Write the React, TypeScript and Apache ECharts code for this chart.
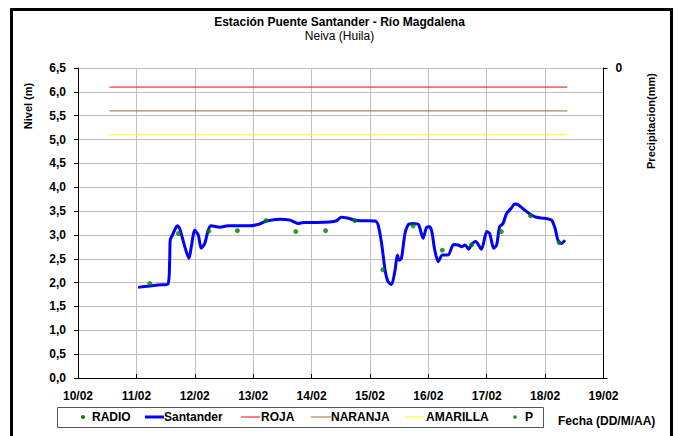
import React, { useEffect, useRef } from "react";
import * as echarts from "echarts";

// ---- data (day of February as decimal, value) ----
const xTickDays = [10, 11, 12, 13, 14, 15, 16, 17, 18, 19];
const santanderDays = [
  11.03, 11.23, 11.37, 11.54, 11.57, 11.58, 11.63, 11.7, 11.74, 11.83, 11.9, 11.94, 12.0, 12.06,
  12.11, 12.17, 12.23, 12.28, 12.43, 12.57, 12.71, 12.94, 13.11, 13.22, 13.46, 13.63, 13.77, 13.86,
  14.09, 14.31, 14.43, 14.51, 14.63, 14.77, 15.09, 15.14, 15.2, 15.26, 15.31, 15.37, 15.43, 15.47,
  15.5, 15.54, 15.6, 15.66, 15.74, 15.83, 15.91, 15.97, 16.02, 16.06, 16.11, 16.17, 16.24, 16.34,
  16.43, 16.51, 16.57, 16.63, 16.69, 16.74, 16.81, 16.91, 17.0, 17.05, 17.12, 17.17, 17.22, 17.28,
  17.34, 17.42, 17.48, 17.54, 17.65, 17.74, 17.85, 17.99, 18.11, 18.17, 18.22, 18.28, 18.34,
];
const santanderLevels = [
  1.9, 1.93, 1.95, 1.97, 2.47, 2.89, 3.03, 3.19, 3.14, 2.75, 2.51, 2.75, 3.1, 3.0,
  2.72, 2.82, 3.1, 3.19, 3.16, 3.19, 3.19, 3.19, 3.23, 3.29, 3.33, 3.31, 3.24, 3.26,
  3.26, 3.27, 3.3, 3.37, 3.35, 3.3, 3.29, 3.21, 2.82, 2.26, 2.02, 1.96, 2.26, 2.58,
  2.47, 2.51, 3.03, 3.22, 3.24, 3.22, 2.93, 3.16, 3.17, 3.07, 2.68, 2.44, 2.58, 2.58,
  2.8, 2.79, 2.75, 2.79, 2.7, 2.8, 2.86, 2.7, 3.07, 3.03, 2.72, 2.79, 3.17, 3.24,
  3.45, 3.56, 3.65, 3.63, 3.52, 3.44, 3.37, 3.35, 3.31, 3.14, 2.89, 2.82, 2.89,
];
const radioDays = [11.23, 11.72, 12.24, 12.73, 13.22, 13.73, 14.24, 14.74, 15.22, 15.74, 16.24, 16.74, 17.25, 17.75, 18.24];
const radioLevels = [1.98, 3.03, 3.08, 3.09, 3.3, 3.07, 3.09, 3.3, 2.27, 3.19, 2.68, 2.79, 3.07, 3.4, 2.84];
const thresholdStartDay = 10.54;
const thresholdEndDay = 18.38;
const rojaLevel = 6.1;
const naranjaLevel = 5.6;
const amarillaLevel = 5.1;
const seriesNames = ["RADIO", "Santander", "ROJA", "NARANJA", "AMARILLA", "P"];

const FONT = "'Liberation Sans', Arial, sans-serif";

export default function App() {
  const ref = useRef<HTMLDivElement>(null);
  useEffect(() => {
    if (!ref.current) return;
    const chart = echarts.init(ref.current, undefined, { renderer: "svg" });
    const pair = (xs: number[], ys: number[]) => xs.map((x, i) => [x, ys[i]]);
    const hline = (v: number) => [
      [thresholdStartDay, v],
      [thresholdEndDay, v],
    ];
    const legY = 417;
    const legText = (text: string, x: number) => ({
      type: "text",
      style: { text, x, y: legY, font: `bold 12px ${FONT}`, fill: "#000", verticalAlign: "middle" },
    });
    const legLine = (x1: number, x2: number, color: string, w: number) => ({
      type: "line",
      shape: { x1, y1: legY, x2, y2: legY },
      style: { stroke: color, lineWidth: w },
    });
    chart.setOption({
      animation: false,
      backgroundColor: "#fff",
      textStyle: { fontFamily: FONT },
      title: {
        text: "Estación Puente Santander - Río Magdalena",
        subtext: "Neiva (Huila)",
        left: "center",
        top: 11,
        itemGap: 2,
        textStyle: { fontSize: 12, fontWeight: "bold", color: "#000", fontFamily: FONT },
        subtextStyle: { fontSize: 12, color: "#000", fontFamily: FONT },
      },
      grid: { left: 78, right: 75.5, top: 68, bottom: 58 },
      xAxis: {
        type: "value",
        min: xTickDays[0],
        max: xTickDays[xTickDays.length - 1],
        interval: 1,
        axisLine: { lineStyle: { color: "#000", width: 1 } },
        axisTick: { inside: true, length: 4, lineStyle: { color: "#000" } },
        axisLabel: {
          margin: 12,
          color: "#000",
          fontWeight: "bold",
          fontSize: 12,
          fontFamily: FONT,
          formatter: (v: number) => `${v < 10 ? "0" : ""}${v}/02`,
        },
        splitLine: { show: true, lineStyle: { color: "#c0c0c0", width: 1 } },
      },
      yAxis: [
        {
          type: "value",
          min: 0,
          max: 6.5,
          interval: 0.5,
          axisLine: { show: true, lineStyle: { color: "#000", width: 1 } },
          axisTick: { show: true, length: 4, lineStyle: { color: "#000" } },
          axisLabel: {
            margin: 12,
            color: "#000",
            fontWeight: "bold",
            fontSize: 12,
            fontFamily: FONT,
            formatter: (v: number) => v.toFixed(1).replace(".", ","),
          },
          splitLine: { show: true, lineStyle: { color: "#c0c0c0", width: 1 } },
        },
        {
          type: "value",
          position: "right",
          inverse: true,
          min: 0,
          max: 1,
          interval: 1,
          axisLine: { show: true, lineStyle: { color: "#000", width: 1 } },
          axisTick: { show: true, length: 4, lineStyle: { color: "#000" } },
          axisLabel: {
            margin: 12,
            color: "#000",
            fontWeight: "bold",
            fontSize: 12,
            fontFamily: FONT,
            formatter: (v: number) => (v === 0 ? "0" : ""),
          },
          splitLine: { show: false },
        },
      ],
      series: [
        {
          name: seriesNames[2],
          type: "line",
          data: hline(rojaLevel),
          symbol: "none",
          lineStyle: { color: "#ff0000", width: 1 },
        },
        {
          name: seriesNames[3],
          type: "line",
          data: hline(naranjaLevel),
          symbol: "none",
          lineStyle: { color: "#996633", width: 1 },
        },
        {
          name: seriesNames[4],
          type: "line",
          data: hline(amarillaLevel),
          symbol: "none",
          lineStyle: { color: "#ffff00", width: 1 },
        },
        {
          name: seriesNames[1],
          type: "line",
          data: pair(santanderDays, santanderLevels),
          symbol: "none",
          smooth: 0.25,
          lineStyle: { color: "#0000ff", width: 3 },
          z: 3,
        },
        {
          name: seriesNames[0],
          type: "scatter",
          data: pair(radioDays, radioLevels),
          symbol: "circle",
          symbolSize: 5,
          itemStyle: { color: "#008000" },
          z: 4,
        },
        {
          name: seriesNames[5],
          type: "scatter",
          data: [],
          symbol: "rect",
          symbolSize: 4,
          itemStyle: { color: "#008000" },
        },
      ],
      graphic: [
        {
          type: "rect",
          shape: { x: 11.5, y: 9.5, width: 660, height: 460 },
          style: { fill: "none", stroke: "#000", lineWidth: 3 },
          silent: true,
        },
        {
          type: "text",
          x: 28,
          y: 106,
          rotation: Math.PI / 2,
          style: { text: "Nivel (m)", font: `bold 11px ${FONT}`, fill: "#000", align: "center", verticalAlign: "middle" },
        },
        {
          type: "text",
          x: 651,
          y: 121,
          rotation: Math.PI / 2,
          style: { text: "Precipitacion(mm)", font: `bold 11px ${FONT}`, fill: "#000", align: "center", verticalAlign: "middle" },
        },
        {
          type: "text",
          style: { text: "Fecha (DD/M/AA)", x: 558, y: 421, font: `bold 12px ${FONT}`, fill: "#000", verticalAlign: "middle" },
        },
        {
          type: "rect",
          shape: { x: 57.5, y: 407.5, width: 486, height: 20 },
          style: { fill: "#fff", stroke: "#555", lineWidth: 1 },
        },
        { type: "circle", shape: { cx: 83, cy: legY, r: 2 }, style: { fill: "#008000" } },
        legText(seriesNames[0], 92),
        legLine(145, 164, "#0000ff", 3),
        legText(seriesNames[1], 164),
        legLine(241, 260, "#ff0000", 1),
        legText(seriesNames[2], 261),
        legLine(311, 331, "#996633", 1),
        legText(seriesNames[3], 331),
        legLine(405, 424, "#ffff00", 1),
        legText(seriesNames[4], 426),
        { type: "rect", shape: { x: 513.5, y: legY - 1.5, width: 3, height: 3 }, style: { fill: "#008000" } },
        legText(seriesNames[5], 525),
      ],
    });
    return () => chart.dispose();
  }, []);
  return (
    <div
      ref={ref}
      style={{ position: "fixed", left: 0, top: 0, width: 679, height: 436, background: "#fff" }}
    />
  );
}
